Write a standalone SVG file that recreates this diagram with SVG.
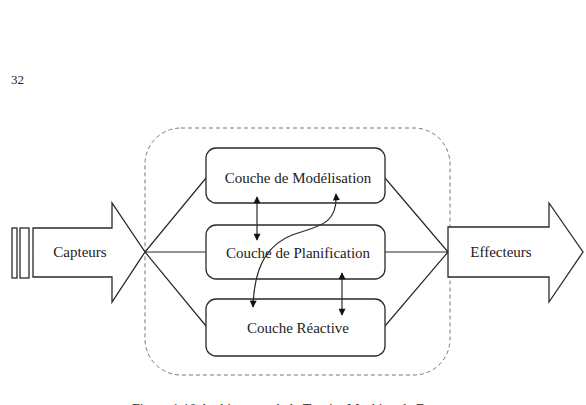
<svg xmlns="http://www.w3.org/2000/svg" width="586" height="405" viewBox="0 0 586 405">
<style>
.ln{fill:none;stroke:#2a2a2a;stroke-width:1.2}
.bx{fill:#fff;stroke:#2a2a2a;stroke-width:1.3}
.t{font-family:"Liberation Serif","Times New Roman",serif;font-size:15px;fill:#222;text-anchor:middle}
</style>
<defs>
<marker id="ah" viewBox="0 0 10 10" refX="9" refY="5" markerWidth="10" markerHeight="7" markerUnits="userSpaceOnUse" orient="auto-start-reverse">
<path d="M0,0 L10,5 L0,10 z" fill="#111"/>
</marker>
</defs>
<rect width="586" height="405" fill="#fff"/>
<text x="11" y="84" font-family="Liberation Serif, serif" font-size="13" fill="#222">32</text>
<g id="container">
<rect x="145" y="128" width="305" height="247" rx="36" ry="36" fill="none" stroke="#777" stroke-width="1" stroke-dasharray="4 3"/>
</g>
<g id="capteurs">
<rect x="12" y="228" width="5" height="50" class="bx"/>
<rect x="20" y="228" width="9" height="50" class="bx"/>
<path d="M33,228 L112,228 L112,203 L145,252 L112,302 L112,277 L33,277 Z" class="bx"/>
<text x="80" y="257" class="t">Capteurs</text>
</g>
<g id="effecteurs">
<path d="M448,227 L549,227 L549,203 L583,252 L549,302 L549,277 L448,277 Z" class="bx"/>
<text x="501" y="257" class="t">Effecteurs</text>
</g>
<g id="connectors">
<path d="M145,252 L206,178 M145,252 L206,252 M145,252 L206,326" class="ln"/>
<path d="M385,178 L448,252 M385,252 L448,252 M385,326 L448,252" class="ln"/>
</g>
<g id="modelisation">
<rect x="206" y="148" width="179" height="55" rx="10" class="bx"/>
<text x="298" y="183" class="t">Couche de Modélisation</text>
</g>
<g id="planification">
<rect x="206" y="225" width="179" height="54" rx="10" class="bx"/>
<text x="298" y="258" class="t">Couche de Planification</text>
</g>
<g id="reactive">
<rect x="206" y="299" width="179" height="57" rx="10" class="bx"/>
<text x="298" y="333" class="t">Couche Réactive</text>
</g>
<g id="interactions">
<line x1="257" y1="240" x2="257" y2="197" class="ln" marker-start="url(#ah)" marker-end="url(#ah)"/>
<line x1="342" y1="315" x2="342" y2="273" class="ln" marker-start="url(#ah)" marker-end="url(#ah)"/>
<path d="M253,307 C254,275 262,247 292,235 C318,226 338,225 336,194" class="ln" marker-start="url(#ah)" marker-end="url(#ah)"/>
</g>
<text x="300" y="414" text-anchor="middle" font-family="Liberation Serif, serif" font-size="14" fill="#333">Figure 1.10 Architecture de la TouringMachine de Ferguson</text>
</svg>
